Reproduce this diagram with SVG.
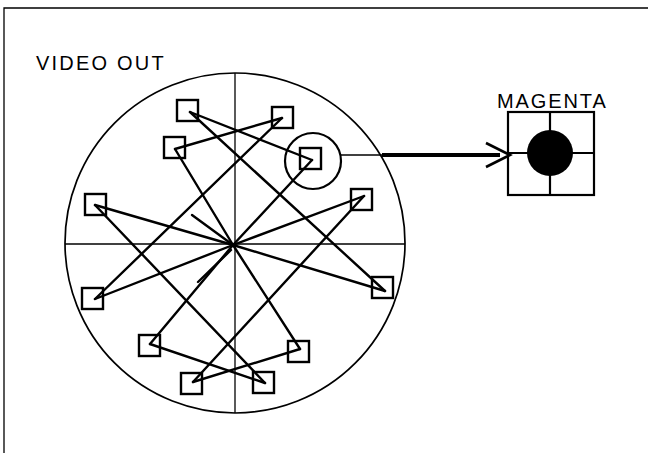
<svg xmlns="http://www.w3.org/2000/svg" width="648" height="453" viewBox="0 0 648 453">
<style>
.sq{fill:none;stroke:#000;stroke-width:2.4}
.ln{stroke:#000;stroke-width:2.4;stroke-linecap:round;fill:none}
.ax{stroke:#000;stroke-width:1.3;fill:none}
.t{font-family:"Liberation Sans",Arial,sans-serif;font-size:20px;fill:#000}
</style>
<rect width="648" height="453" fill="#fff"/>
<g id="frame">
<path d="M4 453 V8 H648" class="ax"/>
</g>
<text class="t" x="36" y="70" letter-spacing="2.2">VIDEO OUT</text>
<g id="screen">
<circle cx="235" cy="243" r="170" class="ax" style="stroke-width:1.7"/>
<line x1="65" y1="244" x2="405" y2="244" class="ax"/>
<line x1="235" y1="73" x2="235" y2="413" class="ax"/>
</g>
<g id="connectors">
<line class="ln" x1="233" y1="245" x2="95" y2="205"/>
<line class="ln" x1="233" y1="245" x2="95" y2="299"/>
<line class="ln" x1="233" y1="245" x2="175" y2="149"/>
<line class="ln" x1="233" y1="245" x2="312" y2="160"/>
<line class="ln" x1="233" y1="245" x2="364" y2="196"/>
<line class="ln" x1="233" y1="245" x2="385" y2="291"/>
<line class="ln" x1="233" y1="245" x2="150" y2="344"/>
<line class="ln" x1="233" y1="245" x2="300" y2="349"/>
<line class="ln" x1="233" y1="245" x2="192" y2="215"/>
<line class="ln" x1="231" y1="250" x2="198" y2="282"/>
<line class="ln" x1="95" y1="205" x2="265" y2="383"/>
<line class="ln" x1="95" y1="299" x2="282" y2="118"/>
<line class="ln" x1="175" y1="149" x2="282" y2="118"/>
<line class="ln" x1="190" y1="112" x2="312" y2="160"/>
<line class="ln" x1="190" y1="112" x2="385" y2="291"/>
<line class="ln" x1="364" y1="196" x2="193" y2="382"/>
<line class="ln" x1="150" y1="344" x2="265" y2="383"/>
<line class="ln" x1="300" y1="349" x2="193" y2="382"/>
<line x1="341" y1="155" x2="384" y2="155" stroke="#000" stroke-width="1.7"/>
<line x1="382" y1="155" x2="500" y2="155" stroke="#000" stroke-width="3.8"/>
<path d="M486 143 L510 155 L486 167" fill="none" stroke="#000" stroke-width="2.6" stroke-linejoin="miter"/>
</g>
<g id="sqA"><rect class="sq" x="177" y="100" width="21" height="21"/></g>
<g id="sqB"><rect class="sq" x="272" y="107" width="21" height="21"/></g>
<g id="sqC"><rect class="sq" x="164" y="137" width="21" height="21"/></g>
<g id="sqD"><rect class="sq" x="300" y="148" width="21" height="21"/><circle cx="313" cy="161" r="28" fill="none" stroke="#000" stroke-width="2.2"/></g>
<g id="sqE"><rect class="sq" x="85" y="194" width="21" height="21"/></g>
<g id="sqF"><rect class="sq" x="351" y="189" width="21" height="21"/></g>
<g id="sqG"><rect class="sq" x="82" y="288" width="21" height="21"/></g>
<g id="sqL"><rect class="sq" x="372" y="277" width="21" height="21"/></g>
<g id="sqH"><rect class="sq" x="139" y="335" width="21" height="21"/></g>
<g id="sqI"><rect class="sq" x="288" y="341" width="21" height="21"/></g>
<g id="sqJ"><rect class="sq" x="181" y="373" width="21" height="21"/></g>
<g id="sqK"><rect class="sq" x="253" y="372" width="21" height="21"/></g>
<g id="magenta">
<text class="t" x="497" y="108" letter-spacing="1.9">MAGENTA</text>
<rect x="508" y="112" width="86" height="83" fill="none" stroke="#000" stroke-width="2.2"/>
<line x1="550" y1="112" x2="550" y2="195" stroke="#000" stroke-width="2.2"/>
<line x1="508" y1="153" x2="594" y2="153" stroke="#000" stroke-width="2.2"/>
<circle cx="550" cy="153" r="23" fill="#000"/>
</g>
</svg>
